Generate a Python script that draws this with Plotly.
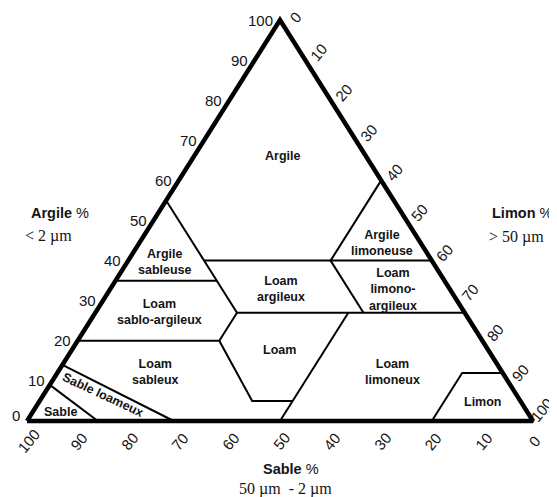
import plotly.graph_objects as go

# ---------------- data (percentages) ----------------
# Outer triangle vertices as (clay, silt); sand = 100 - clay - silt
outer_clay = [0, 100, 0, 0]
outer_silt = [0, 0, 100, 0]

# Class boundary polylines, each as clay list / silt list
b_sand45_clay = [55, 27]; b_sand45_silt = [0, 28]          # argile sableuse / argile, loam argileux
b_clay40_clay = [40, 40]; b_clay40_silt = [15, 60]         # argile lower limit
b_silt40_clay = [40, 60]; b_silt40_silt = [40, 40]         # argile / argile limoneuse
b_clay35_clay = [35, 35]; b_clay35_silt = [0, 20]          # argile sableuse / loam sablo-argileux
b_clay27_clay = [27, 27]; b_clay27_silt = [28, 73]         # loam argileux lower limit
b_sand20_clay = [40, 27]; b_sand20_silt = [40, 53]         # loam argileux / loam limono-argileux
b_clay20_clay = [20, 20, 27]; b_clay20_silt = [0, 28, 28]  # loam sablo-argileux lower limit
b_loam_clay = [20, 5, 5]; b_loam_silt = [28, 42, 50]       # loam sableux / loam
b_silt50_clay = [27, 0]; b_silt50_silt = [50, 50]          # loam / loam limoneux
b_limon_clay = [0, 12, 12]; b_limon_silt = [80, 80, 88]    # limon
b_sable_clay = [9, 0]; b_sable_silt = [0, 14]              # sable / sable loameux
b_sloam_clay = [14, 0]; b_sloam_silt = [0, 29]             # sable loameux / loam sableux

# Axis ticks
tick_values = [0, 10, 20, 30, 40, 50, 60, 70, 80, 90, 100]

# Class names and where they sit (clay %, silt %)
class_names = ["Argile", "Argile<br>sableuse", "Argile<br>limoneuse", "Loam<br>argileux",
               "Loam<br>limono-<br>argileux", "Loam<br>sablo-argileux", "Loam",
               "Loam<br>sableux", "Loam<br>limoneux", "Limon", "Sable"]
class_clay = [66, 39.6, 44.4, 32.9, 32.9, 27.1, 17.7, 12.3, 12.2, 4.7, 2.2]
class_silt = [17.4, 7.4, 48.0, 33.8, 55.9, 12.6, 41.1, 19.2, 66.2, 87.7, 5.6]
rot_name = "Sable loameux"
rot_clay = 6.4
rot_silt = 11.8


# ---------------- projection helpers ----------------
def px(clay, silt):
    return [s + c / 2.0 for c, s in zip(clay, silt)]


def py(clay, silt):
    return list(clay)


boundaries = [
    (b_sand45_clay, b_sand45_silt), (b_clay40_clay, b_clay40_silt),
    (b_silt40_clay, b_silt40_silt), (b_clay35_clay, b_clay35_silt),
    (b_clay27_clay, b_clay27_silt), (b_sand20_clay, b_sand20_silt),
    (b_clay20_clay, b_clay20_silt), (b_loam_clay, b_loam_silt),
    (b_silt50_clay, b_silt50_silt), (b_limon_clay, b_limon_silt),
    (b_sable_clay, b_sable_silt), (b_sloam_clay, b_sloam_silt),
]

bx, by = [], []
for c, s in boundaries:
    bx += px(c, s) + [None]
    by += py(c, s) + [None]

fig = go.Figure()
fig.add_trace(go.Scatter(x=bx, y=by, mode="lines",
                         line=dict(color="black", width=2),
                         hoverinfo="skip", showlegend=False, cliponaxis=False))
fig.add_trace(go.Scatter(x=px(outer_clay, outer_silt), y=py(outer_clay, outer_silt),
                         mode="lines", line=dict(color="black", width=4.5),
                         hoverinfo="skip", showlegend=False, cliponaxis=False))

ann = []
TXT = "#141414"
SANS = "Liberation Sans, Arial, sans-serif"
SERIF = "Liberation Serif, Times New Roman, serif"

# class labels
xs = px(class_clay, class_silt)
ys = py(class_clay, class_silt)
for name, x, y in zip(class_names, xs, ys):
    ann.append(dict(x=x, y=y, text="<b>%s</b>" % name, showarrow=False,
                    font=dict(family=SANS, size=12.5, color=TXT)))
ann.append(dict(x=rot_silt + rot_clay / 2.0, y=rot_clay, text="<b>%s</b>" % rot_name,
                showarrow=False, textangle=25,
                font=dict(family=SANS, size=12.5, color=TXT)))

# left axis (argile): tick at clay = v on the left edge
for v in tick_values:
    ann.append(dict(x=v / 2.0, y=v, text=str(v), showarrow=False,
                    xanchor="right", yanchor="middle", xshift=-5,
                    yshift=6 if v == 0 else 0,
                    font=dict(family=SANS, size=15, color=TXT)))
# right axis (limon): silt = v on the right edge (sand = 0)
for v in tick_values:
    ann.append(dict(x=v + (100 - v) / 2.0, y=100 - v, text=str(v), showarrow=False,
                    xanchor="center", yanchor="middle",
                    xshift=15 if v == 0 else (8 if v == 100 else 13),
                    yshift=3 if v == 0 else (11 if v == 100 else 8),
                    textangle=-50, font=dict(family=SANS, size=15, color=TXT)))
# bottom axis (sable): sand = v on the bottom edge
for v in tick_values:
    ann.append(dict(x=100 - v, y=0, text=str(v), showarrow=False,
                    xanchor="center", yanchor="middle", xshift=1, yshift=-20,
                    textangle=-50, font=dict(family=SANS, size=15, color=TXT)))

# page body margin offset (pixels) and figure size
OFF = 8
W, H = 557 - OFF, 497 - OFF

# axis titles (reference pixel positions)
titles = [
    ("<b>Argile</b> %", 29, 213, "left", 14.5, SANS),
    ("&lt; 2 µm", 23, 236, "left", 16, SERIF),
    ("<b>Limon</b> %", 490, 213, "left", 14.5, SANS),
    ("&gt; 50 µm", 487, 237, "left", 16, SERIF),
    ("<b>Sable</b> %", 291, 469, "center", 14.5, SANS),
    ("50 µm  - 2 µm", 285, 489, "center", 16, SERIF),
]
for text, xp, yp, anc, sz, fam in titles:
    ann.append(dict(x=(xp - OFF) / W, y=1 - (yp - OFF) / H, xref="paper", yref="paper",
                    text=text, showarrow=False, xanchor=anc, yanchor="middle",
                    font=dict(family=fam, size=sz, color=TXT)))

X0 = 27 - OFF      # pixel of the left vertex in figure
Y0 = 421 - OFF     # pixel of the bottom edge in figure
SX, SY = 5.06, 4.01

fig.update_layout(
    width=W, height=H, margin=dict(l=0, r=0, t=0, b=0),
    paper_bgcolor="white", plot_bgcolor="white",
    xaxis=dict(range=[-X0 / SX, (W - X0) / SX], visible=False, fixedrange=True),
    yaxis=dict(range=[-(H - Y0) / SY, Y0 / SY], visible=False, fixedrange=True),
    annotations=ann, showlegend=False,
)
fig.write_html("out.html", config={"displayModeBar": False})
